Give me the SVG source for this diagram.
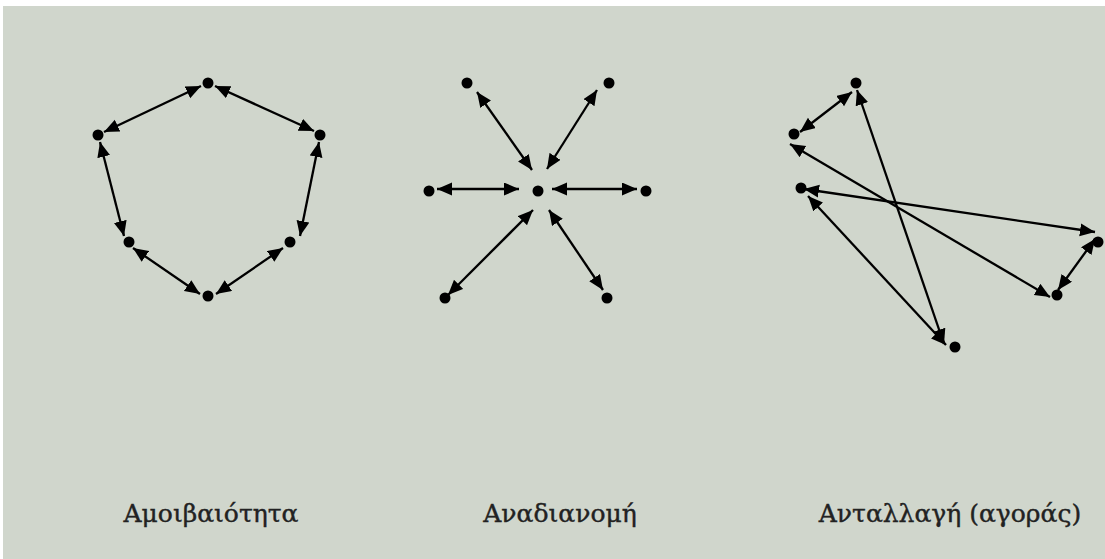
<svg xmlns="http://www.w3.org/2000/svg" width="1105" height="559" viewBox="0 0 1105 559">
<defs>
<marker id="ah" markerUnits="userSpaceOnUse" markerWidth="16" markerHeight="14" refX="15" refY="6.5" orient="auto-start-reverse" viewBox="0 0 16 14">
<path d="M0,0 L15,6.5 L0,13 z" fill="#000"/>
</marker>
<style>
.e{stroke:#000;stroke-width:2.3;fill:none;marker-start:url(#ah);marker-end:url(#ah)}
.n{fill:#000}
.t{font-family:"DejaVu Serif","Liberation Serif",serif;font-size:25px;fill:#222;stroke:#222;stroke-width:0.4;text-anchor:middle}
</style>
</defs>
<rect x="0" y="0" width="1105" height="559" fill="#ffffff"/>
<rect x="3" y="6" width="1102" height="553" fill="#d0d6cc"/>
<g id="connectors">
<line class="e" x1="104" y1="132" x2="201" y2="86"/>
<line class="e" x1="215" y1="86" x2="314" y2="131"/>
<line class="e" x1="100" y1="142" x2="124" y2="236"/>
<line class="e" x1="319" y1="142" x2="300" y2="236"/>
<line class="e" x1="133" y1="248" x2="200" y2="294"/>
<line class="e" x1="216" y1="294" x2="283" y2="248"/>
<line class="e" x1="477" y1="92" x2="532" y2="170"/>
<line class="e" x1="597" y1="90" x2="547" y2="169"/>
<line class="e" x1="437" y1="189" x2="519" y2="189"/>
<line class="e" x1="552" y1="189" x2="637" y2="189"/>
<line class="e" x1="533" y1="210" x2="448" y2="295"/>
<line class="e" x1="549" y1="210" x2="603" y2="290"/>
<line class="e" x1="852" y1="92" x2="800" y2="132"/>
<line class="e" x1="857" y1="90" x2="944" y2="344"/>
<line class="e" x1="790" y1="144" x2="1050" y2="297"/>
<line class="e" x1="804" y1="189" x2="1095" y2="232"/>
<line class="e" x1="808" y1="196" x2="946" y2="345"/>
<line class="e" x1="1095" y1="239" x2="1058" y2="290"/>
</g>
<g id="n1-top"><circle class="n" cx="208" cy="83" r="5.5"/></g>
<g id="n1-right"><circle class="n" cx="320" cy="135" r="5.5"/></g>
<g id="n1-left"><circle class="n" cx="98" cy="135" r="5.5"/></g>
<g id="n1-lowleft"><circle class="n" cx="129" cy="242" r="5.5"/></g>
<g id="n1-lowright"><circle class="n" cx="290" cy="242" r="5.5"/></g>
<g id="n1-bottom"><circle class="n" cx="208" cy="296" r="5.5"/></g>
<g id="n2-center"><circle class="n" cx="538" cy="191" r="5.5"/></g>
<g id="n2-tl"><circle class="n" cx="467" cy="83" r="5.5"/></g>
<g id="n2-tr"><circle class="n" cx="609" cy="83" r="5.5"/></g>
<g id="n2-l"><circle class="n" cx="429" cy="191" r="5.5"/></g>
<g id="n2-r"><circle class="n" cx="646" cy="191" r="5.5"/></g>
<g id="n2-bl"><circle class="n" cx="445" cy="298" r="5.5"/></g>
<g id="n2-br"><circle class="n" cx="607" cy="298" r="5.5"/></g>
<g id="n3-a"><circle class="n" cx="856" cy="83" r="5.5"/></g>
<g id="n3-b"><circle class="n" cx="794" cy="134" r="5.5"/></g>
<g id="n3-c"><circle class="n" cx="801" cy="188" r="5.5"/></g>
<g id="n3-d"><circle class="n" cx="1098" cy="242" r="5.5"/></g>
<g id="n3-e"><circle class="n" cx="1057" cy="295" r="5.5"/></g>
<g id="n3-f"><circle class="n" cx="955" cy="347" r="5.5"/></g>
<g id="labels">
<text class="t" x="211" y="522">Αμοιβαιότητα</text>
<text class="t" x="560" y="522">Αναδιανομή</text>
<text class="t" x="950" y="522">Ανταλλαγή (αγοράς)</text>
</g>
</svg>
